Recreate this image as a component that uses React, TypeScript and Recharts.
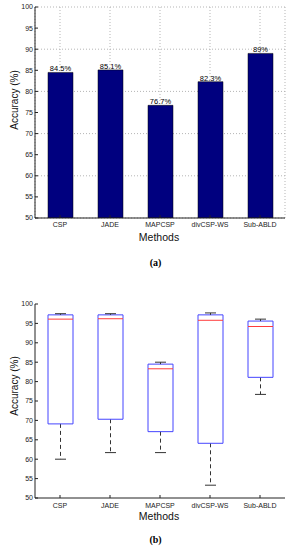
import {
  Bar,
  BarChart,
  CartesianGrid,
  ComposedChart,
  LabelList,
  XAxis,
  YAxis,
} from "recharts";

const methods = ["CSP", "JADE", "MAPCSP", "divCSP-WS", "Sub-ABLD"];
const meanAcc = [84.5, 85.1, 76.7, 82.3, 89];

// box plot stats per method
const whiskerLow = [60.0, 61.7, 61.7, 53.3, 76.7];
const q1 = [69.1, 70.3, 67.1, 64.1, 81.1];
const median = [96.1, 96.2, 83.3, 95.8, 94.2];
const q3 = [97.2, 97.2, 84.5, 97.2, 95.6];
const whiskerHigh = [97.5, 97.5, 85.0, 97.7, 96.1];

const yTicks = [50, 55, 60, 65, 70, 75, 80, 85, 90, 95, 100];

const FONT = "'Liberation Sans', Arial, sans-serif";
const tickStyle = { fontSize: 7, fill: "#222", fontFamily: FONT };

const barData = methods.map((m, i) => ({ method: m, acc: meanAcc[i] }));

// stacked segments: hidden base, low whisker, lower box, upper box, high whisker
const boxData = methods.map((m, i) => ({
  method: m,
  base: whiskerLow[i],
  lowW: q1[i] - whiskerLow[i],
  lowBox: median[i] - q1[i],
  highBox: q3[i] - median[i],
  highW: whiskerHigh[i] - q3[i],
}));

const BOX = "#4545ff";
const MED = "#ff3b3b";
const WHISK = "#333";

function LowWhisker(p: any) {
  const cx = p.x + p.width / 2;
  const bottom = p.y + p.height;
  return (
    <g>
      <line x1={cx} x2={cx} y1={p.y} y2={bottom} stroke={WHISK} strokeDasharray="4 3" />
      <line x1={cx - 5.5} x2={cx + 5.5} y1={bottom} y2={bottom} stroke={WHISK} />
    </g>
  );
}

function HighWhisker(p: any) {
  const cx = p.x + p.width / 2;
  return (
    <g>
      <line x1={cx} x2={cx} y1={p.y} y2={p.y + p.height} stroke={WHISK} strokeDasharray="4 3" />
      <line x1={cx - 5.5} x2={cx + 5.5} y1={p.y} y2={p.y} stroke={WHISK} />
    </g>
  );
}

function LowBox(p: any) {
  const { x, y, width: w, height: h } = p;
  return (
    <path d={`M${x},${y} L${x},${y + h} L${x + w},${y + h} L${x + w},${y}`} fill="none" stroke={BOX} />
  );
}

function HighBox(p: any) {
  const { x, y, width: w, height: h } = p;
  return (
    <g>
      <path d={`M${x},${y + h} L${x},${y} L${x + w},${y} L${x + w},${y + h}`} fill="none" stroke={BOX} />
      <line x1={x} x2={x + w} y1={y + h} y2={y + h} stroke={MED} />
    </g>
  );
}

const captionStyle: any = {
  position: "absolute",
  left: 0,
  width: 290,
  textAlign: "center",
  paddingLeft: 21,
  boxSizing: "border-box",
  fontFamily: "'Liberation Serif', serif",
  fontSize: 10,
  fontWeight: "bold",
  lineHeight: "10px",
};

export default function App() {
  return (
    <div style={{ position: "absolute", left: 0, top: 0, width: 290, height: 550, background: "#fff" }}>
      <div style={{ position: "absolute", left: 0, top: 0 }}>
        <BarChart width={290} height={250} data={barData} margin={{ top: 7, right: 5, bottom: 0, left: 0 }}>
          <CartesianGrid stroke="#b5b5b5" strokeDasharray="1 2" />
          <XAxis
            dataKey="method"
            height={32}
            tick={tickStyle}
            tickSize={-3}
            tickMargin={7}
            stroke="#222"
            interval={0}
          />
          <XAxis xAxisId="t" dataKey="method" orientation="top" height={0} tick={false} stroke="#222" />
          <YAxis
            domain={[50, 100]}
            ticks={yTicks}
            width={35}
            tick={tickStyle}
            tickSize={-3}
            tickMargin={5}
            stroke="#222"
            allowDataOverflow
          />
          <YAxis yAxisId="r" orientation="right" domain={[50, 100]} ticks={yTicks} width={0} tick={false} stroke="#222" />
          <Bar dataKey="acc" fill="#00007f" stroke="#000" strokeWidth={0.5} barSize={25} isAnimationActive={false}>
            <LabelList
              dataKey="acc"
              position="top"
              offset={1}
              formatter={(v: any) => `${v}%`}
              style={{ fontSize: 7.5, fill: "#000", fontFamily: FONT }}
            />
          </Bar>
          <text x={18} y={100} transform="rotate(-90 18 100)" textAnchor="middle" fontSize={10} fontFamily={FONT} fill="#111">
            Accuracy (%)
          </text>
          <text x={159} y={241} textAnchor="middle" fontSize={10.5} fontFamily={FONT} fill="#111">
            Methods
          </text>
        </BarChart>
      </div>
      <div style={{ ...captionStyle, top: 258 }}>(a)</div>

      <div style={{ position: "absolute", left: 0, top: 297 }}>
        <ComposedChart width={290} height={233} data={boxData} margin={{ top: 7, right: 5, bottom: 0, left: 0 }}>
          <XAxis
            dataKey="method"
            height={32}
            tick={tickStyle}
            tickSize={-3}
            tickMargin={8}
            stroke="#222"
            interval={0}
          />
          <XAxis xAxisId="t" dataKey="method" orientation="top" height={0} tick={false} stroke="#222" />
          <YAxis
            domain={[50, 100]}
            ticks={yTicks}
            width={35}
            tick={tickStyle}
            tickSize={-3}
            tickMargin={5}
            stroke="#222"
            allowDataOverflow
          />
          <YAxis yAxisId="r" orientation="right" domain={[50, 100]} ticks={yTicks} width={0} tick={false} stroke="#222" />
          <Bar dataKey="base" stackId="b" fill="none" barSize={25} isAnimationActive={false} />
          <Bar dataKey="lowW" stackId="b" barSize={25} shape={LowWhisker} isAnimationActive={false} />
          <Bar dataKey="lowBox" stackId="b" barSize={25} shape={LowBox} isAnimationActive={false} />
          <Bar dataKey="highBox" stackId="b" barSize={25} shape={HighBox} isAnimationActive={false} />
          <Bar dataKey="highW" stackId="b" barSize={25} shape={HighWhisker} isAnimationActive={false} />
          <text x={18} y={89} transform="rotate(-90 18 89)" textAnchor="middle" fontSize={10} fontFamily={FONT} fill="#111">
            Accuracy (%)
          </text>
          <text x={159} y={223} textAnchor="middle" fontSize={10.5} fontFamily={FONT} fill="#111">
            Methods
          </text>
        </ComposedChart>
      </div>
      <div style={{ ...captionStyle, top: 535 }}>(b)</div>
    </div>
  );
}
